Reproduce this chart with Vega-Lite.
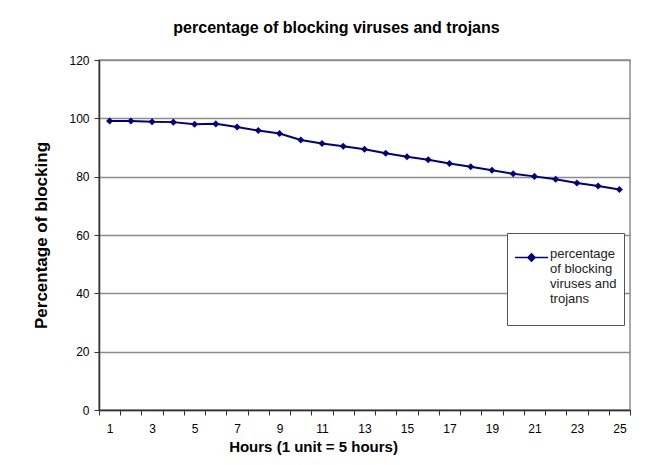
{
  "$schema": "https://vega.github.io/schema/vega-lite/v6.json",
  "width": 531,
  "height": 350,
  "autosize": "none",
  "padding": {"left": 99, "top": 60, "right": 31, "bottom": 55},
  "background": "white",
  "config": {
    "font": "Liberation Sans",
    "view": {"stroke": "#8c8c8c", "strokeWidth": 1.5}
  },
  "title": {
    "text": "percentage of blocking viruses and trojans",
    "fontSize": 16,
    "fontWeight": "bold",
    "color": "black",
    "offset": 18,
    "dx": -28
  },
  "data": {
    "values": [
      {"hour": 1, "pct": 99.1, "series": "percentage of blocking viruses and trojans"},
      {"hour": 2, "pct": 99.1, "series": "percentage of blocking viruses and trojans"},
      {"hour": 3, "pct": 98.8, "series": "percentage of blocking viruses and trojans"},
      {"hour": 4, "pct": 98.7, "series": "percentage of blocking viruses and trojans"},
      {"hour": 5, "pct": 98.0, "series": "percentage of blocking viruses and trojans"},
      {"hour": 6, "pct": 98.1, "series": "percentage of blocking viruses and trojans"},
      {"hour": 7, "pct": 97.0, "series": "percentage of blocking viruses and trojans"},
      {"hour": 8, "pct": 95.8, "series": "percentage of blocking viruses and trojans"},
      {"hour": 9, "pct": 94.8, "series": "percentage of blocking viruses and trojans"},
      {"hour": 10, "pct": 92.6, "series": "percentage of blocking viruses and trojans"},
      {"hour": 11, "pct": 91.4, "series": "percentage of blocking viruses and trojans"},
      {"hour": 12, "pct": 90.4, "series": "percentage of blocking viruses and trojans"},
      {"hour": 13, "pct": 89.4, "series": "percentage of blocking viruses and trojans"},
      {"hour": 14, "pct": 88.0, "series": "percentage of blocking viruses and trojans"},
      {"hour": 15, "pct": 86.8, "series": "percentage of blocking viruses and trojans"},
      {"hour": 16, "pct": 85.8, "series": "percentage of blocking viruses and trojans"},
      {"hour": 17, "pct": 84.5, "series": "percentage of blocking viruses and trojans"},
      {"hour": 18, "pct": 83.4, "series": "percentage of blocking viruses and trojans"},
      {"hour": 19, "pct": 82.2, "series": "percentage of blocking viruses and trojans"},
      {"hour": 20, "pct": 81.0, "series": "percentage of blocking viruses and trojans"},
      {"hour": 21, "pct": 80.1, "series": "percentage of blocking viruses and trojans"},
      {"hour": 22, "pct": 79.1, "series": "percentage of blocking viruses and trojans"},
      {"hour": 23, "pct": 77.8, "series": "percentage of blocking viruses and trojans"},
      {"hour": 24, "pct": 76.8, "series": "percentage of blocking viruses and trojans"},
      {"hour": 25, "pct": 75.6, "series": "percentage of blocking viruses and trojans"}
    ]
  },
  "mark": {
    "type": "line",
    "strokeWidth": 2,
    "point": {"shape": "diamond", "size": 50, "filled": true, "color": "#000080", "opacity": 1}
  },
  "encoding": {
    "x": {
      "field": "hour",
      "type": "quantitative",
      "scale": {"domain": [0.5, 25.5], "nice": false, "zero": false},
      "axis": {
        "values": [0.5, 1, 1.5, 2, 2.5, 3, 3.5, 4, 4.5, 5, 5.5, 6, 6.5, 7, 7.5, 8, 8.5, 9, 9.5, 10, 10.5, 11, 11.5, 12, 12.5, 13, 13.5, 14, 14.5, 15, 15.5, 16, 16.5, 17, 17.5, 18, 18.5, 19, 19.5, 20, 20.5, 21, 21.5, 22, 22.5, 23, 23.5, 24, 24.5, 25, 25.5],
        "labelExpr": "datum.value % 2 === 1 ? '' + datum.value : ''",
        "labelOverlap": false,
        "labelFontSize": 12,
        "labelColor": "black",
        "labelPadding": 8,
        "tickSize": 5,
        "tickColor": {"condition": {"test": "datum.value % 1 === 0", "value": "transparent"}, "value": "#333333"},
        "domainColor": "#333333",
        "domainWidth": 1.5,
        "grid": false,
        "title": "Hours (1 unit = 5 hours)",
        "titleFontSize": 15,
        "titleFontWeight": "bold",
        "titleColor": "black",
        "titlePadding": 5,
        "titleX": 214
      }
    },
    "y": {
      "field": "pct",
      "type": "quantitative",
      "scale": {"domain": [0, 120], "nice": false},
      "axis": {
        "values": [0, 20, 40, 60, 80, 100, 120],
        "labelFontSize": 12,
        "labelColor": "black",
        "labelPadding": 5,
        "tickSize": 5,
        "tickColor": "#333333",
        "domainColor": "#333333",
        "domainWidth": 1.5,
        "gridColor": "#8c8c8c",
        "gridWidth": 1.5,
        "title": "Percentage of blocking",
        "titleFontSize": 17,
        "titleFontWeight": "bold",
        "titleColor": "black",
        "titlePadding": 18
      }
    },
    "color": {
      "field": "series",
      "type": "nominal",
      "scale": {"range": ["#000080"]},
      "legend": {
        "orient": "none",
        "legendX": 408,
        "legendY": 173,
        "title": " ",
        "titleOrient": "bottom",
        "titleFontSize": 10,
        "titlePadding": 2,
        "strokeColor": "#555555",
        "fillColor": "white",
        "padding": 7,
        "labelFontSize": 13,
        "labelColor": "#222222",
        "labelLimit": 300,
        "labelExpr": "['percentage', 'of blocking', 'viruses and', 'trojans']",
        "labelBaseline": "alphabetic",
        "labelOffset": 1,
        "symbolType": "M-1,0H1M0,-0.22L0.22,0L0,0.22L-0.22,0Z",
        "symbolSize": 1100,
        "symbolStrokeWidth": 1.5,
        "symbolStrokeColor": "#000080",
        "symbolFillColor": "#000080"
      }
    }
  }
}
